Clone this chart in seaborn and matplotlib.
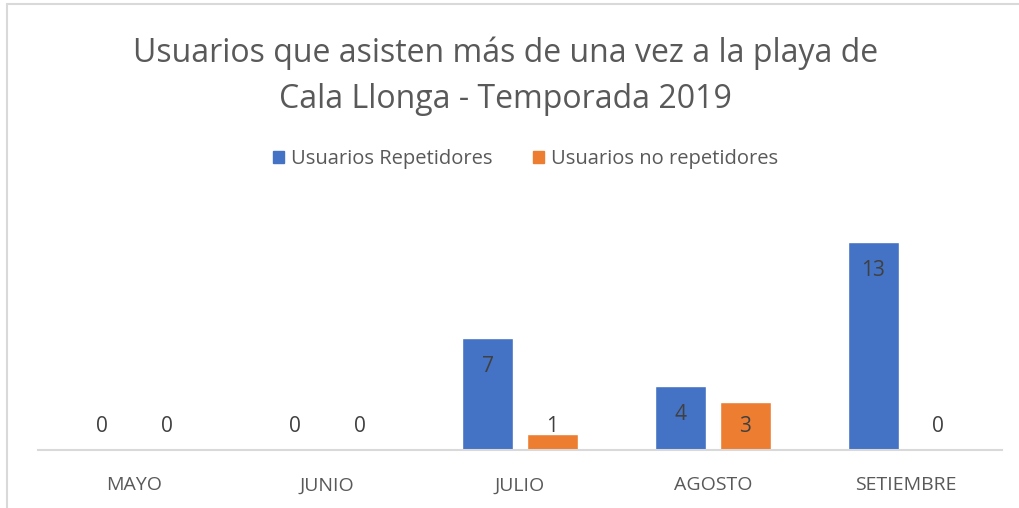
import matplotlib
matplotlib.use("Agg")
import matplotlib.pyplot as plt
from matplotlib.lines import Line2D
import seaborn as sns
import pandas as pd

months = ["MAYO", "JUNIO", "JULIO", "AGOSTO", "SETIEMBRE"]
series_names = ["Usuarios Repetidores", "Usuarios no repetidores"]
repetidores = [0, 0, 7, 4, 13]
no_repetidores = [0, 0, 1, 3, 0]

df = pd.DataFrame({
    "Mes": months * 2,
    "Serie": [series_names[0]] * len(months) + [series_names[1]] * len(months),
    "Usuarios": repetidores + no_repetidores,
})

sns.set_theme(style="white")
plt.rcParams["font.family"] = ["Open Sans", "DejaVu Sans"]

gray = "#595959"
fig = plt.figure(figsize=(10.2, 5.08), dpi=100)
ax = fig.add_axes([38 / 1020, 58 / 508, 964 / 1020, 224 / 508])

sns.barplot(data=df, x="Mes", y="Usuarios", hue="Serie", order=months,
            hue_order=series_names, palette=["#4472C4", "#ED7D31"],
            width=0.67, gap=0.21, saturation=1, ax=ax, legend=False)

ax.set_xlim(-0.5, len(months) - 0.5)
ax.set_ylim(0, 14)
ax.set_xlabel("")
ax.set_ylabel("")
ax.set_yticks([])
ax.tick_params(axis="x", length=0, pad=19, labelsize=14, labelcolor=gray)
for side in ["left", "right", "top"]:
    ax.spines[side].set_visible(False)
ax.spines["bottom"].set_color("#D9D9D9")
ax.spines["bottom"].set_linewidth(1.5)

# data labels: inside the top of the bar, or just above the baseline when short
for cont in ax.containers:
    for bar in cont:
        h = bar.get_height()
        xc = bar.get_x() + bar.get_width() / 2
        ypos = max(h - 1.8, 1.45)
        ax.text(xc, ypos, f"{int(round(h))}", ha="center", va="center",
                fontsize=15, color="#404040")

fig.text(0.496, 1 - 76 / 508,
         "Usuarios que asisten más de una vez a la playa de\nCala Llonga - Temporada 2019",
         ha="center", va="center", fontsize=23, color=gray, linespacing=1.5)

handles = [plt.Rectangle((0, 0), 1, 1, color=c) for c in ["#4472C4", "#ED7D31"]]
fig.legend(handles, series_names, loc="center", bbox_to_anchor=(0.515, 1 - 159 / 508),
           ncol=2, frameon=False, fontsize=14.5, labelcolor=gray,
           handlelength=0.55, handleheight=0.55, handletextpad=0.35, columnspacing=2.0)

# chart border
fig.add_artist(Line2D([7 / 1020, 1], [1 - 4 / 508, 1 - 4 / 508], transform=fig.transFigure,
                      color="#D9D9D9", lw=1.5))
fig.add_artist(Line2D([7 / 1020, 7 / 1020], [0, 1 - 4 / 508], transform=fig.transFigure,
                      color="#D9D9D9", lw=1.5))

fig.savefig("out.png", dpi=100, facecolor="white")
